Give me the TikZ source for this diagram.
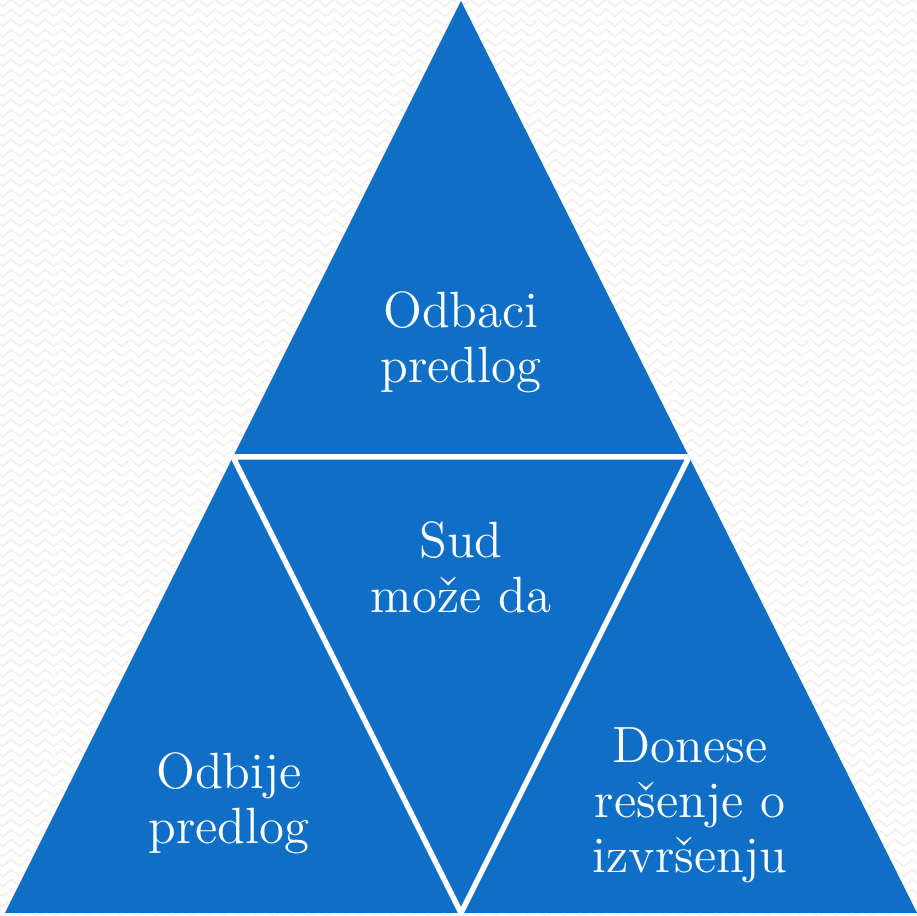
\documentclass[tikz,border=0pt]{standalone}
\usepackage{tikz}
\usetikzlibrary{decorations.pathmorphing}
\usepackage{xcolor}
\definecolor{plava}{HTML}{0F6FC6}
\definecolor{pozadina}{HTML}{F1F1F1}

\begin{document}
\begin{tikzpicture}[
    natpis/.style={text=white, align=center, inner sep=0pt,
        font=\fontsize{14.5}{15.65}\selectfont}
  ]
    \useasboundingbox (0,0) rectangle (9.17,9.16);
    % pozadina
    \fill[white] (0,0) rectangle (9.17,9.16);
    \foreach \red in {0,...,91}{
      \draw[pozadina, line width=.5pt, decorate,
        decoration={zigzag, segment length=.17cm, amplitude=.035cm}]
        (-.1,\red*.1+.03) -- (9.3,\red*.1+.03);
    }
    % temena
    \coordinate (vrh) at (4.61,9.15);
    \coordinate (dl) at (0.05,0.03);
    \coordinate (dd) at (9.17,0.03);
    \coordinate (sl) at (2.33,4.59);
    \coordinate (sd) at (6.89,4.59);
    \coordinate (sdno) at (4.61,0.03);
    % veliki trougao
    \fill[plava] (vrh) -- (dl) -- (dd) -- cycle;
    % beli razmaci
    \begin{scope}
      \clip (vrh) -- (dl) -- (dd) -- cycle;
      \draw[white, line width=.055cm] (sl) -- (sd) -- (sdno) -- cycle;
    \end{scope}
    % tekst
    \node[natpis] (gore) at (4.61,5.74) {Odbaci\\predlog};
    \node[natpis] (sud) at (4.61,3.49) {Sud\\može da};
    \node[natpis] (levo) at (2.29,1.13) {Odbije\\predlog};
    \node[natpis] (desno) at (6.90,1.11) {Donese\\rešenje o\\izvršenju};
\end{tikzpicture}
\end{document}
